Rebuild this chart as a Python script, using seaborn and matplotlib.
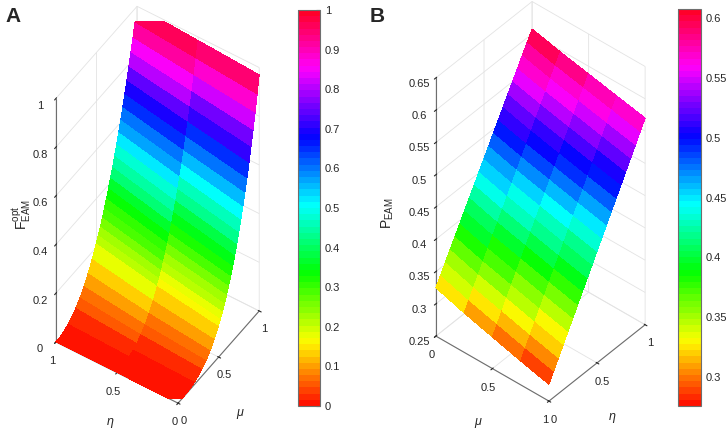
import numpy as np
import matplotlib
matplotlib.use("Agg")
import matplotlib.pyplot as plt
from matplotlib.colors import ListedColormap
import seaborn as sns

# panel A: F_EAM^opt over (mu, eta)
mu_a = [0, 0.05, 0.1, 0.15, 0.2, 0.25, 0.3, 0.35, 0.4, 0.45, 0.5,
        0.525, 0.55, 0.575, 0.6, 0.625, 0.65, 0.675, 0.7, 0.725, 0.75,
        0.775, 0.8, 0.825, 0.85, 0.875, 0.9, 0.925, 0.95, 0.975, 1]
eta_a = [0, 0.5, 1]
f_eta0 = [0, 0.0002, 0.0013, 0.004, 0.0091, 0.0175, 0.0295, 0.0462, 0.068, 0.0956, 0.130,
          0.1497, 0.1713, 0.1949, 0.2204, 0.2482, 0.2782, 0.3103, 0.3446, 0.3817, 0.4209,
          0.4632, 0.5079, 0.5552, 0.6045, 0.6586, 0.715, 0.7737, 0.836, 0.9013, 0.97]
f_eta05 = [0, 0.0005, 0.0028, 0.0078, 0.0163, 0.0288, 0.0457, 0.0677, 0.0952, 0.1286, 0.1682,
           0.1905, 0.2143, 0.2402, 0.2676, 0.2971, 0.3282, 0.3616, 0.3965, 0.4338, 0.4728,
           0.5142, 0.5576, 0.6031, 0.651, 0.7008, 0.753, 0.8073, 0.864, 0.9234, 0.985]
f_eta1 = [0, 0.0014, 0.0063, 0.0154, 0.029, 0.047, 0.071, 0.099, 0.133, 0.173, 0.218,
          0.2423, 0.268, 0.296, 0.325, 0.3556, 0.388, 0.4212, 0.456, 0.4929, 0.531,
          0.5707, 0.612, 0.6549, 0.699, 0.7455, 0.793, 0.8424, 0.893, 0.9458, 1.0]

# panel B: P_EAM over (mu, eta)
eta_b = [0, 0.05, 0.1, 0.15, 0.2, 0.25, 0.3, 0.35, 0.4, 0.45, 0.5,
         0.55, 0.6, 0.65, 0.7, 0.75, 0.8, 0.85, 0.9, 0.95, 1]
mu_b = [0, 0.25, 0.5, 0.75, 1]
p_mu0 = [0.325, 0.3391, 0.3533, 0.3674, 0.3815, 0.3956, 0.4098, 0.4239, 0.438, 0.4521, 0.4663,
         0.4804, 0.4945, 0.5086, 0.5228, 0.5369, 0.551, 0.5651, 0.5793, 0.5934, 0.6075]
p_mu025 = [0.311, 0.3253, 0.3396, 0.3539, 0.3682, 0.3825, 0.3968, 0.4111, 0.4254, 0.4397, 0.454,
           0.4683, 0.4826, 0.4969, 0.5112, 0.5255, 0.5398, 0.5541, 0.5684, 0.5827, 0.597]
p_mu05 = [0.299, 0.3135, 0.3279, 0.3424, 0.3568, 0.3713, 0.3857, 0.4002, 0.4146, 0.4291, 0.4435,
          0.458, 0.4724, 0.4869, 0.5013, 0.5158, 0.5302, 0.5447, 0.5591, 0.5736, 0.588]
p_mu075 = [0.287, 0.3016, 0.3162, 0.3308, 0.3454, 0.36, 0.3746, 0.3892, 0.4038, 0.4184, 0.433,
           0.4476, 0.4622, 0.4768, 0.4914, 0.506, 0.5206, 0.5352, 0.5498, 0.5644, 0.579]
p_mu1 = [0.276, 0.2907, 0.3054, 0.3201, 0.3348, 0.3495, 0.3642, 0.3789, 0.3936, 0.4083, 0.423,
         0.4377, 0.4524, 0.4671, 0.4818, 0.4965, 0.5112, 0.5259, 0.5406, 0.5553, 0.570]

cbar_a_ticks = [0, 0.1, 0.2, 0.3, 0.4, 0.5, 0.6, 0.7, 0.8, 0.9, 1]
cbar_b_ticks = [0.3, 0.35, 0.4, 0.45, 0.5, 0.55, 0.6]
za_ticks = [0, 0.2, 0.4, 0.6, 0.8, 1]
zb_ticks = [0.25, 0.3, 0.35, 0.4, 0.45, 0.5, 0.55, 0.6, 0.65]

sns.set_style("white")
plt.rcParams["font.family"] = ["Liberation Sans", "DejaVu Sans"]
plt.rcParams["mathtext.fontset"] = "custom"
plt.rcParams["mathtext.rm"] = "Liberation Sans"
plt.rcParams["mathtext.it"] = "Liberation Sans:italic"
plt.rcParams["grid.color"] = "#e3e3e3"
plt.rcParams["grid.linewidth"] = 0.6

# matlab style hsv map with 64 steps
cmap = ListedColormap(sns.color_palette("hsv", 64))


def fmt(v):
    return ("%g" % v)


def style_ax(ax):
    ax.set_facecolor("none")
    for axis in (ax.xaxis, ax.yaxis, ax.zaxis):
        axis.set_pane_color((1, 1, 1, 0))
        axis.pane.set_edgecolor("#e3e3e3")
        axis.line.set_color("#6e6e6e")
        axis.line.set_linewidth(0.8)
        axis._axinfo["tick"]["color"] = "#6e6e6e"
    ax.tick_params(labelsize=8, colors="#262626")
    ax.tick_params(axis="x", pad=-2)
    ax.tick_params(axis="y", pad=-2)
    ax.tick_params(axis="z", pad=3)


fig = plt.figure(figsize=(7.26, 4.30), dpi=100)

# ---- A
axA = fig.add_axes([-0.05, -0.008, 0.52, 1.04], projection="3d", proj_type="ortho")
MA, EA = np.meshgrid(mu_a, eta_a)
ZA = np.array([f_eta0, f_eta05, f_eta1])
surfA = axA.plot_surface(MA, EA, ZA, cmap=cmap, vmin=0, vmax=1, rstride=1, cstride=1,
                         linewidth=0, antialiased=False, shade=False)
axA.set_xlim(0, 1)
axA.set_ylim(0, 1)
axA.set_zlim(0, 1)
axA.set_xticks([0, 0.5, 1])
axA.set_yticks([0, 0.5, 1])
axA.set_zticks(za_ticks)
axA.set_xticklabels([fmt(v) for v in [0, 0.5, 1]])
axA.set_yticklabels([fmt(v) for v in [0, 0.5, 1]])
axA.set_zticklabels([fmt(v) for v in za_ticks])
axA.set_box_aspect((1, 1, 2.53), zoom=1.093)
axA.view_init(elev=49, azim=-146.4)
style_ax(axA)

caxA = fig.add_axes([298 / 726, 1 - 406 / 430, 22 / 726, 396 / 430])
cbA = fig.colorbar(surfA, cax=caxA, ticks=cbar_a_ticks)
cbA.ax.set_yticklabels([fmt(v) for v in cbar_a_ticks])
cbA.ax.tick_params(labelsize=8, direction="in", length=3, colors="#262626")
cbA.outline.set_edgecolor("#6e6e6e")

fig.text(22 / 726, 1 - 215 / 430, r"$\mathregular{F^{opt}_{EAM}}$", rotation=90,
         ha="center", va="center", fontsize=10)
fig.text(110 / 726, 1 - 423 / 430, r"$\eta$", ha="center", va="center", fontsize=9)
fig.text(240 / 726, 1 - 414 / 430, r"$\mu$", ha="center", va="center", fontsize=9)
fig.text(5 / 726, 1 - 16 / 430, "A", fontsize=15, fontweight="bold", va="center")

# ---- B
axB = fig.add_axes([0.4775, 0.0, 0.52, 1.04], projection="3d", proj_type="ortho")
MB, EB = np.meshgrid(mu_b, eta_b)
ZB = np.array([p_mu0, p_mu025, p_mu05, p_mu075, p_mu1]).T
surfB = axB.plot_surface(MB, EB, ZB, cmap=cmap, vmin=0.276, vmax=0.6075, rstride=1, cstride=1,
                         linewidth=0, antialiased=False, shade=False)
axB.set_xlim(0, 1)
axB.set_ylim(0, 1)
axB.set_zlim(0.25, 0.65)
axB.set_xticks([0, 0.5, 1])
axB.set_yticks([0, 0.5, 1])
axB.set_zticks(zb_ticks)
axB.set_xticklabels([fmt(v) for v in [0, 0.5, 1]])
axB.set_yticklabels([fmt(v) for v in [0, 0.5, 1]])
axB.set_zticklabels([fmt(v) for v in zb_ticks])
axB.set_box_aspect((1, 1, 2.36), zoom=1.05)
axB.view_init(elev=42.5, azim=-49.6)
axB.zaxis.set_ticks_position("lower")
style_ax(axB)

caxB = fig.add_axes([678 / 726, 1 - 406 / 430, 23 / 726, 397 / 430])
cbB = fig.colorbar(surfB, cax=caxB, ticks=cbar_b_ticks)
cbB.ax.set_yticklabels([fmt(v) for v in cbar_b_ticks])
cbB.ax.tick_params(labelsize=8, direction="in", length=3, colors="#262626")
cbB.outline.set_edgecolor("#6e6e6e")

fig.text(388 / 726, 1 - 213 / 430, r"$\mathregular{P_{EAM}}$", rotation=90,
         ha="center", va="center", fontsize=10)
fig.text(478 / 726, 1 - 423 / 430, r"$\mu$", ha="center", va="center", fontsize=9)
fig.text(612 / 726, 1 - 418 / 430, r"$\eta$", ha="center", va="center", fontsize=9)
fig.text(370 / 726, 1 - 16 / 430, "B", fontsize=15, fontweight="bold", va="center")

fig.savefig("out.png", dpi=100)
